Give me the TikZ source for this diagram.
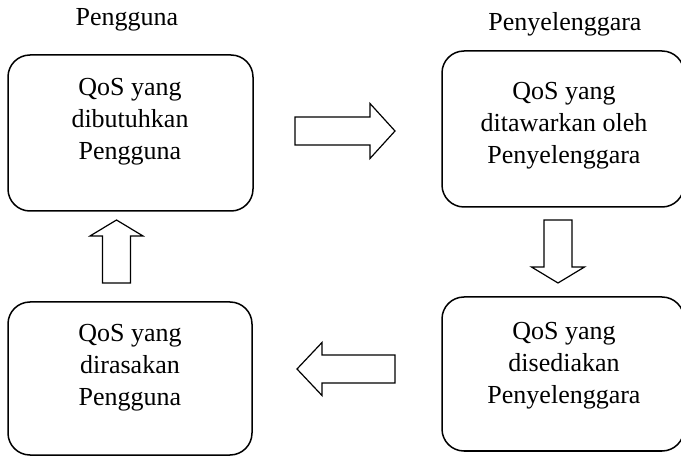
\documentclass[tikz,border=0pt]{standalone}
\usepackage{fontspec}
\setmainfont{Liberation Serif}
\usepackage{tikz}
\usetikzlibrary{positioning}

\tikzset{
  qosbox/.style={draw, rounded corners=22pt, line width=1.5pt, inner sep=0pt},
  qostext/.style={inner sep=0pt, align=center, font=\fontsize{26}{32}\selectfont},
  arrowline/.style={draw, line width=1.2pt, line join=miter},
  % block arrow pointing right from its tail: length, head length, head half-width
  pics/blockarrow/.style n args={3}{code={
    \draw[arrowline] (0,-14) -- (#1-#2,-14) -- (#1-#2,-#3) -- (#1,0)
      -- (#1-#2,#3) -- (#1-#2,14) -- (0,14) -- cycle;
  }}
}

\begin{document}
\begin{tikzpicture}[x=1pt,y=-1pt]
  \useasboundingbox (0,0) rectangle (681,457);

  % column titles
  \node[qostext] (userlabel) at (127,20) {Pengguna};
  \node[qostext] (providerlabel) at (565,24) {Penyelenggara};

  % boxes
  \node[qosbox, minimum width=245pt, minimum height=156pt] (needqos) at (130.5,133) {};
  \node[qosbox, minimum width=242pt, minimum height=156pt] (offerqos) at (563,129) {};
  \node[qosbox, minimum width=242pt, minimum height=154pt] (supplyqos) at (563,374) {};
  \node[qosbox, minimum width=244pt, minimum height=153pt] (feltqos) at (130,378.5) {};

  % box texts
  \node[qostext] (needtext) at (130,122) {QoS yang\\dibutuhkan\\Pengguna};
  \node[qostext] (offertext) at (564,126) {QoS yang\\ditawarkan oleh\\Penyelenggara};
  \node[qostext] (supplytext) at (564,366) {QoS yang\\disediakan\\Penyelenggara};
  \node[qostext] (felttext) at (130,368) {QoS yang\\dirasakan\\Pengguna};

  % block arrows
  \pic at (295,131) {blockarrow={100}{25}{27.5}};
  \pic[rotate=-90] at (558,220) {blockarrow={63}{16}{26.5}};
  \pic[rotate=180] at (395,369) {blockarrow={98}{25}{26.5}};
  \pic[rotate=90] at (116.5,283) {blockarrow={63}{16}{26.5}};
\end{tikzpicture}
\end{document}
